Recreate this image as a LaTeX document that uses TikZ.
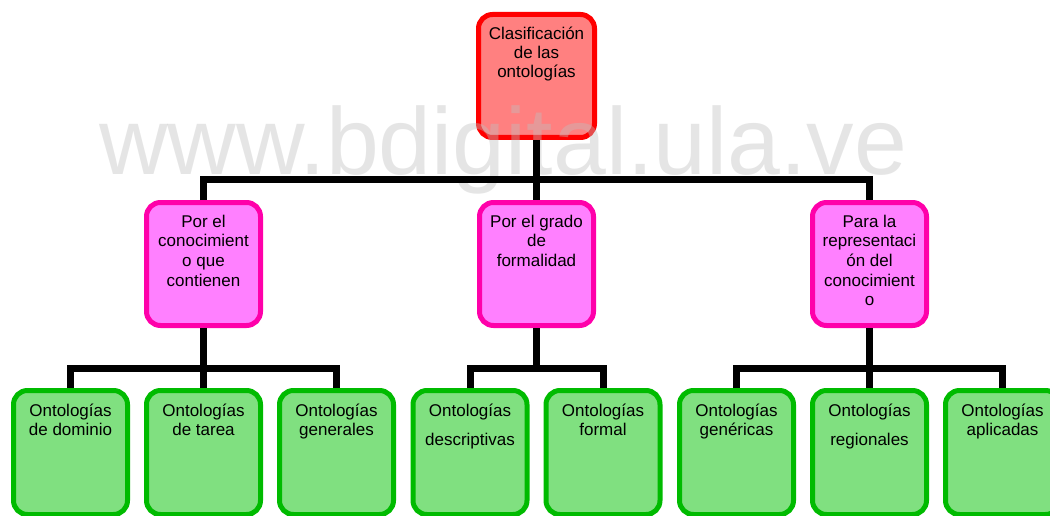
\documentclass[tikz,border=0pt]{standalone}
\usepackage{fontspec}
\setmainfont{Liberation Sans}
\definecolor{rootfill}{RGB}{255,128,128}
\definecolor{rootline}{RGB}{255,0,0}
\definecolor{midfill}{RGB}{255,128,255}
\definecolor{midline}{RGB}{255,0,170}
\definecolor{leaffill}{RGB}{128,224,128}
\definecolor{leafline}{RGB}{0,187,0}
% top-aligned, centred text block of a given height and first-baseline drop
\newcommand\bxtext[3]{\parbox[c][#1][t]{114pt}{\centering\fontsize{17}{19.7}\selectfont\rule{0pt}{#2}#3}}
\begin{document}
\begin{tikzpicture}[x=1pt,y=-1pt,
  box/.style={rounded corners=14pt, line width=5pt, inner sep=0pt, align=center},
  rootbox/.style={box, draw=rootline, fill=rootfill},
  midbox/.style={box, draw=midline, fill=midfill},
  leafbox/.style={box, draw=leafline, fill=leaffill},
  conn/.style={line width=7pt, draw=black, line join=miter}]
\useasboundingbox (0,0) rectangle (1050,516);

% root
\node[rootbox] (root) at (536.5,76) {\parbox[c][123pt][t]{116pt}{\centering\fontsize{17}{19}\selectfont\rule{0pt}{25.5pt}Clasificación\\de las\\ontologías}};

% second level
\node[midbox] (m1) at (203.5,264) {\bxtext{123pt}{24.5pt}{Por el\\conocimient\\o que\\contienen}};
\node[midbox] (m2) at (536.5,264) {\bxtext{123pt}{24.5pt}{Por el grado\\de\\formalidad}};
\node[midbox] (m3) at (869.5,264) {\bxtext{123pt}{24.5pt}{Para la\\representaci\\ón del\\conocimient\\o}};

% leaves
\node[leafbox] (l1) at (70.5,452.5) {\bxtext{124pt}{25.5pt}{Ontologías\\de dominio}};
\node[leafbox] (l2) at (203.5,452.5) {\bxtext{124pt}{25.5pt}{Ontologías\\de tarea}};
\node[leafbox] (l3) at (336.5,452.5) {\bxtext{124pt}{25.5pt}{Ontologías\\generales}};
\node[leafbox] (l4) at (470,452.5) {\bxtext{124pt}{25.5pt}{Ontologías\\[9.5pt]descriptivas}};
\node[leafbox] (l5) at (603,452.5) {\bxtext{124pt}{25.5pt}{Ontologías\\formal}};
\node[leafbox] (l6) at (736.5,452.5) {\bxtext{124pt}{25.5pt}{Ontologías\\genéricas}};
\node[leafbox] (l7) at (869.5,452.5) {\bxtext{124pt}{25.5pt}{Ontologías\\[9.5pt]regionales}};
\node[leafbox] (l8) at (1002.5,452.5) {\bxtext{124pt}{25.5pt}{Ontologías\\aplicadas}};

% watermark
\node[anchor=base west, inner sep=0pt, text=black!25, text opacity=0.4] (wm) at (99,175)
  {\fontsize{95}{95}\selectfont www.bdigital.ula.ve};

% connectors
\draw[conn] (root.south) -- (m2.north);
\draw[conn] (m1.north) -- ++(0,-20) -| (m3.north);
\draw[conn] (m1.south) -- (l2.north);
\draw[conn] (l1.north) -- ++(0,-20) -| (l3.north);
\draw[conn] (l4.north) -- ++(0,-20) coordinate (b2) -| (l5.north);
\draw[conn] (m2.south) -- (m2.south |- b2);
\draw[conn] (m3.south) -- (l7.north);
\draw[conn] (l6.north) -- ++(0,-20) -| (l8.north);
\end{tikzpicture}
\end{document}
